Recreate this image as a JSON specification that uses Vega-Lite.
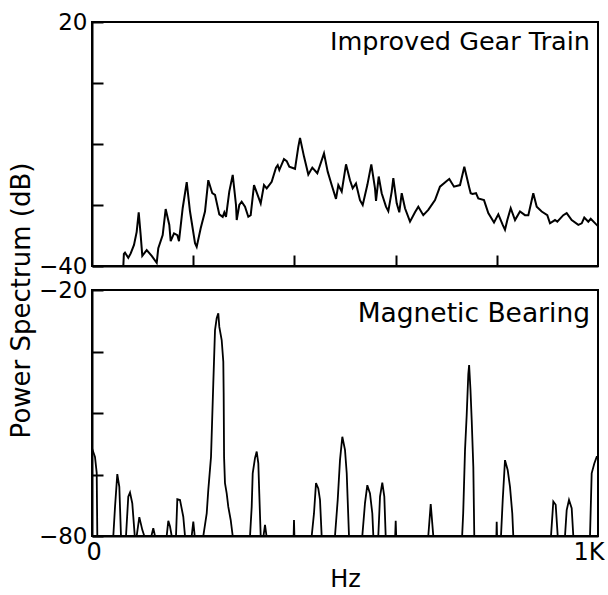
{
  "$schema": "https://vega.github.io/schema/vega-lite/v6.json",
  "padding": {"left": 6, "top": 10, "right": 0, "bottom": 0},
  "background": "white",
  "config": {
    "font": "DejaVu Sans",
    "view": {"stroke": "black", "strokeWidth": 2},
    "axis": {"domainColor": "black", "domainWidth": 2, "tickColor": "black", "tickWidth": 2, "labelColor": "black", "labelFont": "DejaVu Sans", "labelFontSize": 23, "titleFont": "DejaVu Sans", "titleFontSize": 24, "titleFontWeight": "normal", "titleColor": "black", "grid": false, "labelOverlap": false}
  },
  "datasets": {
    "gear": [
      {"hz": 61.9, "db": -40}, {"hz": 63, "db": -37}, {"hz": 65.2, "db": -36.7}, {"hz": 71.7, "db": -38.0}, {"hz": 76.5, "db": -36.9}, {"hz": 83.0, "db": -34.8}, {"hz": 88.3, "db": -31.6}, {"hz": 92.3, "db": -26.8}, {"hz": 96.2, "db": -32.4}, {"hz": 99.4, "db": -37.5}, {"hz": 108.1, "db": -36.1}, {"hz": 118.0, "db": -37.5}, {"hz": 127.9, "db": -39.2}, {"hz": 131.0, "db": -35.6}, {"hz": 139.7, "db": -32.4}, {"hz": 145.6, "db": -26.0}, {"hz": 152.8, "db": -29.9}, {"hz": 155.5, "db": -33.9}, {"hz": 162.1, "db": -32.0}, {"hz": 168.6, "db": -32.4}, {"hz": 171.9, "db": -33.9}, {"hz": 179.2, "db": -25.8}, {"hz": 187.2, "db": -19.4}, {"hz": 193.7, "db": -26.6}, {"hz": 203.6, "db": -34.4}, {"hz": 206.9, "db": -35.3}, {"hz": 214.8, "db": -30.7}, {"hz": 223.3, "db": -26.6}, {"hz": 229.8, "db": -18.9}, {"hz": 237.7, "db": -22.1}, {"hz": 243.1, "db": -22.5}, {"hz": 251.6, "db": -27.3}, {"hz": 258.3, "db": -27.9}, {"hz": 261.5, "db": -26.8}, {"hz": 264.8, "db": -27.9}, {"hz": 271.3, "db": -21.7}, {"hz": 278.1, "db": -17.6}, {"hz": 284.6, "db": -25.0}, {"hz": 286.0, "db": -28.7}, {"hz": 291.1, "db": -25.0}, {"hz": 295.8, "db": -24.2}, {"hz": 302.4, "db": -25.4}, {"hz": 308.9, "db": -27.9}, {"hz": 313.6, "db": -27.5}, {"hz": 320.2, "db": -20.1}, {"hz": 328.7, "db": -23.0}, {"hz": 333.4, "db": -24.6}, {"hz": 339.9, "db": -20.1}, {"hz": 345.3, "db": -20.9}, {"hz": 355.1, "db": -19.3}, {"hz": 363.6, "db": -15.8}, {"hz": 367.0, "db": -15.2}, {"hz": 370.2, "db": -16.4}, {"hz": 379.4, "db": -13.7}, {"hz": 384.8, "db": -14.2}, {"hz": 389.9, "db": -15.6}, {"hz": 401.2, "db": -16.1}, {"hz": 407.7, "db": -10.7}, {"hz": 411.1, "db": -8.5}, {"hz": 419.0, "db": -13.1}, {"hz": 427.5, "db": -17.5}, {"hz": 435.4, "db": -15.8}, {"hz": 445.3, "db": -17.2}, {"hz": 458.5, "db": -12.3}, {"hz": 465.8, "db": -16.8}, {"hz": 473.7, "db": -20.1}, {"hz": 482.2, "db": -23.5}, {"hz": 486.8, "db": -20.1}, {"hz": 493.5, "db": -21.7}, {"hz": 502.0, "db": -15.0}, {"hz": 509.9, "db": -18.9}, {"hz": 515.2, "db": -20.9}, {"hz": 521.7, "db": -19.7}, {"hz": 529.6, "db": -23.8}, {"hz": 535.0, "db": -25.0}, {"hz": 544.1, "db": -20.1}, {"hz": 552.0, "db": -15.0}, {"hz": 559.3, "db": -20.9}, {"hz": 561.3, "db": -24.0}, {"hz": 566.6, "db": -18.0}, {"hz": 572.5, "db": -22.1}, {"hz": 581.0, "db": -25.4}, {"hz": 585.6, "db": -26.5}, {"hz": 592.3, "db": -21.7}, {"hz": 595.5, "db": -18.4}, {"hz": 602.2, "db": -24.6}, {"hz": 607.3, "db": -26.8}, {"hz": 612.1, "db": -22.1}, {"hz": 618.6, "db": -25.8}, {"hz": 628.5, "db": -29.1}, {"hz": 638.3, "db": -26.8}, {"hz": 644.9, "db": -25.4}, {"hz": 654.7, "db": -27.5}, {"hz": 664.6, "db": -26.2}, {"hz": 677.9, "db": -23.8}, {"hz": 687.7, "db": -20.5}, {"hz": 701.0, "db": -19.1}, {"hz": 706.1, "db": -18.6}, {"hz": 715.4, "db": -20.5}, {"hz": 727.3, "db": -20.1}, {"hz": 735.8, "db": -15.6}, {"hz": 745.1, "db": -20.5}, {"hz": 748.4, "db": -22.1}, {"hz": 752.0, "db": -22.3}, {"hz": 758.9, "db": -22.1}, {"hz": 763.4, "db": -23.4}, {"hz": 774.7, "db": -23.8}, {"hz": 783.2, "db": -27.0}, {"hz": 794.5, "db": -29.3}, {"hz": 803.0, "db": -27.3}, {"hz": 811.7, "db": -29.9}, {"hz": 816.2, "db": -31.1}, {"hz": 820.8, "db": -28.7}, {"hz": 827.5, "db": -25.8}, {"hz": 836.0, "db": -28.7}, {"hz": 845.8, "db": -26.6}, {"hz": 855.7, "db": -27.5}, {"hz": 862.3, "db": -27.5}, {"hz": 872.1, "db": -22.1}, {"hz": 878.9, "db": -25.4}, {"hz": 888.7, "db": -26.6}, {"hz": 899.8, "db": -27.5}, {"hz": 905.1, "db": -29.5}, {"hz": 915.0, "db": -28.7}, {"hz": 919.6, "db": -29.1}, {"hz": 931.4, "db": -27.5}, {"hz": 938.1, "db": -27.0}, {"hz": 948.0, "db": -28.7}, {"hz": 961.1, "db": -29.9}, {"hz": 967.8, "db": -29.5}, {"hz": 972.9, "db": -28.1}, {"hz": 980.8, "db": -29.1}, {"hz": 985.6, "db": -28.4}, {"hz": 996.0, "db": -29.7}, {"hz": 999.4, "db": -30.1}
    ],
    "bearing": [
      {"hz": 0, "db": -58.6}, {"hz": 5.9, "db": -60.7}, {"hz": 9.3, "db": -64.6}, {"hz": 10.5, "db": -80},
      {"hz": 42.1, "db": -80}, {"hz": 45.5, "db": -72.9}, {"hz": 50.0, "db": -64.9}, {"hz": 54.0, "db": -68.0}, {"hz": 57.3, "db": -80},
      {"hz": 67.2, "db": -80}, {"hz": 71.7, "db": -70.4}, {"hz": 75.1, "db": -69.4}, {"hz": 79.6, "db": -72.0}, {"hz": 83.6, "db": -78.5}, {"hz": 84.5, "db": -80},
      {"hz": 88.3, "db": -80}, {"hz": 93.5, "db": -75.4}, {"hz": 99.4, "db": -78.5}, {"hz": 103.4, "db": -80},
      {"hz": 117.4, "db": -80}, {"hz": 121.1, "db": -78.1}, {"hz": 124.5, "db": -80},
      {"hz": 147.6, "db": -80}, {"hz": 150.8, "db": -76.3}, {"hz": 154.2, "db": -77.7}, {"hz": 157.5, "db": -80},
      {"hz": 166.0, "db": -80}, {"hz": 168.6, "db": -71.0}, {"hz": 173.9, "db": -71.2}, {"hz": 180.4, "db": -75.3}, {"hz": 183.8, "db": -80},
      {"hz": 197.0, "db": -80}, {"hz": 200.2, "db": -76.5}, {"hz": 203.0, "db": -80},
      {"hz": 220.0, "db": -80}, {"hz": 226.7, "db": -74.5}, {"hz": 229.8, "db": -68.8}, {"hz": 235.2, "db": -60.7}, {"hz": 239.7, "db": -42.8}, {"hz": 243.1, "db": -29.8}, {"hz": 246.4, "db": -26.9}, {"hz": 249.6, "db": -25.7}, {"hz": 251.6, "db": -29.0}, {"hz": 256.3, "db": -32.2}, {"hz": 259.5, "db": -37.5}, {"hz": 260.2, "db": -45}, {"hz": 261.0, "db": -60.7}, {"hz": 262.8, "db": -67.1}, {"hz": 266.2, "db": -69.6}, {"hz": 269.4, "db": -72.9}, {"hz": 274.1, "db": -76.1}, {"hz": 278.1, "db": -80},
      {"hz": 312.3, "db": -80}, {"hz": 315.6, "db": -72.9}, {"hz": 317.6, "db": -64.7}, {"hz": 322.1, "db": -61.0}, {"hz": 325.5, "db": -59.4}, {"hz": 328.7, "db": -62.3}, {"hz": 330.6, "db": -69.6}, {"hz": 333.4, "db": -80},
      {"hz": 338.9, "db": -80}, {"hz": 341.9, "db": -77.3}, {"hz": 344.9, "db": -80},
      {"hz": 398.5, "db": -80}, {"hz": 399.2, "db": -76.1}, {"hz": 400.0, "db": -80},
      {"hz": 434.2, "db": -80}, {"hz": 438.7, "db": -74.5}, {"hz": 442.7, "db": -67.1}, {"hz": 447.2, "db": -68.4}, {"hz": 450.6, "db": -71.2}, {"hz": 453.9, "db": -80},
      {"hz": 480.2, "db": -80}, {"hz": 485.6, "db": -71.2}, {"hz": 490.1, "db": -61.5}, {"hz": 494.7, "db": -55.8}, {"hz": 500.0, "db": -59.0}, {"hz": 503.4, "db": -64.7}, {"hz": 505.3, "db": -71.2}, {"hz": 507.9, "db": -80},
      {"hz": 534.2, "db": -80}, {"hz": 539.5, "db": -72.0}, {"hz": 544.1, "db": -67.6}, {"hz": 549.4, "db": -69.6}, {"hz": 554.0, "db": -74.5}, {"hz": 556.0, "db": -80},
      {"hz": 565.8, "db": -80}, {"hz": 569.2, "db": -70.4}, {"hz": 573.7, "db": -67.0}, {"hz": 577.7, "db": -70.4}, {"hz": 580.4, "db": -80},
      {"hz": 599.2, "db": -80}, {"hz": 600.2, "db": -76.3}, {"hz": 601.2, "db": -80},
      {"hz": 664.6, "db": -80}, {"hz": 669.4, "db": -72.2}, {"hz": 674.5, "db": -80},
      {"hz": 731.5, "db": -80}, {"hz": 733.6, "db": -74.4}, {"hz": 737.2, "db": -59.0}, {"hz": 740.5, "db": -50.5}, {"hz": 743.7, "db": -40.5}, {"hz": 745.3, "db": -38.3}, {"hz": 748.0, "db": -44.4}, {"hz": 750.4, "db": -51.7}, {"hz": 753.6, "db": -63.1}, {"hz": 755.5, "db": -80},
      {"hz": 799.2, "db": -80}, {"hz": 799.8, "db": -76.5}, {"hz": 800.5, "db": -80},
      {"hz": 808.3, "db": -80}, {"hz": 811.7, "db": -71.2}, {"hz": 816.2, "db": -61.5}, {"hz": 821.5, "db": -63.9}, {"hz": 826.1, "db": -68.0}, {"hz": 830.6, "db": -74.5}, {"hz": 832.6, "db": -80},
      {"hz": 907.1, "db": -80}, {"hz": 911.7, "db": -71.6}, {"hz": 916.4, "db": -72.4}, {"hz": 920.4, "db": -80},
      {"hz": 934.8, "db": -80}, {"hz": 938.1, "db": -73.7}, {"hz": 942.7, "db": -71.2}, {"hz": 948.0, "db": -73.2}, {"hz": 951.2, "db": -80},
      {"hz": 984.2, "db": -80}, {"hz": 987.5, "db": -64.7}, {"hz": 992.7, "db": -62.3}, {"hz": 997.4, "db": -60.7}, {"hz": 1000, "db": -60.7}
    ]
  },
  "spacing": 24,
  "bounds": "flush",
  "vconcat": [
    {
      "width": 506,
      "height": 244,
      "layer": [
        {
          "data": {"name": "gear"},
          "mark": {"type": "line", "color": "black", "strokeWidth": 2, "clip": true},
          "encoding": {
            "x": {"field": "hz", "type": "quantitative", "scale": {"domain": [0, 1000], "nice": false}, "axis": {"values": [200, 400, 600, 800], "tickSize": -11, "labels": false, "title": null}},
            "y": {"field": "db", "type": "quantitative", "scale": {"domain": [-40, 20], "nice": false, "zero": false}, "axis": {"values": [-40, -25, -10, 5, 20], "tickSize": -11, "labelPadding": 16, "labelExpr": "datum.value == 20 || datum.value == -40 ? datum.label : ''", "title": null}}
          }
        },
        {
          "data": {"values": [{"label": "Improved Gear Train"}]},
          "mark": {"type": "text", "align": "right", "baseline": "top", "dx": -8, "dy": 8, "fontSize": 25.5, "font": "DejaVu Sans", "color": "black"},
          "encoding": {
            "x": {"datum": 1000, "type": "quantitative"},
            "y": {"datum": 20, "type": "quantitative"},
            "text": {"field": "label"}
          }
        }
      ]
    },
    {
      "width": 506,
      "height": 246,
      "layer": [
        {
          "data": {"name": "bearing"},
          "mark": {"type": "line", "color": "black", "strokeWidth": 1.8, "clip": true},
          "encoding": {
            "x": {"field": "hz", "type": "quantitative", "scale": {"domain": [0, 1000], "nice": false}, "axis": {"values": [0, 1000], "ticks": false, "labelFlush": true, "labelFlushOffset": 6, "labelPadding": 4, "labelFontSize": 24, "labelExpr": "datum.value == 1000 ? '1K' : '0'", "title": "Hz", "titlePadding": 3}},
            "y": {"field": "db", "type": "quantitative", "scale": {"domain": [-80, -20], "nice": false, "zero": false}, "axis": {"values": [-80, -65, -50, -35, -20], "tickSize": -11, "labelPadding": 16, "labelExpr": "datum.value == -20 || datum.value == -80 ? datum.label : ''", "title": "Power Spectrum (dB)", "titleX": -71, "titleY": 10, "titleAngle": -90, "titleAlign": "center", "titleBaseline": "middle", "titleFontSize": 26}}
          }
        },
        {
          "data": {"values": [{"label": "Magnetic Bearing"}]},
          "mark": {"type": "text", "align": "right", "baseline": "top", "dx": -8, "dy": 11, "fontSize": 26.5, "font": "DejaVu Sans", "color": "black"},
          "encoding": {
            "x": {"datum": 1000, "type": "quantitative"},
            "y": {"datum": -20, "type": "quantitative"},
            "text": {"field": "label"}
          }
        }
      ]
    }
  ]
}
